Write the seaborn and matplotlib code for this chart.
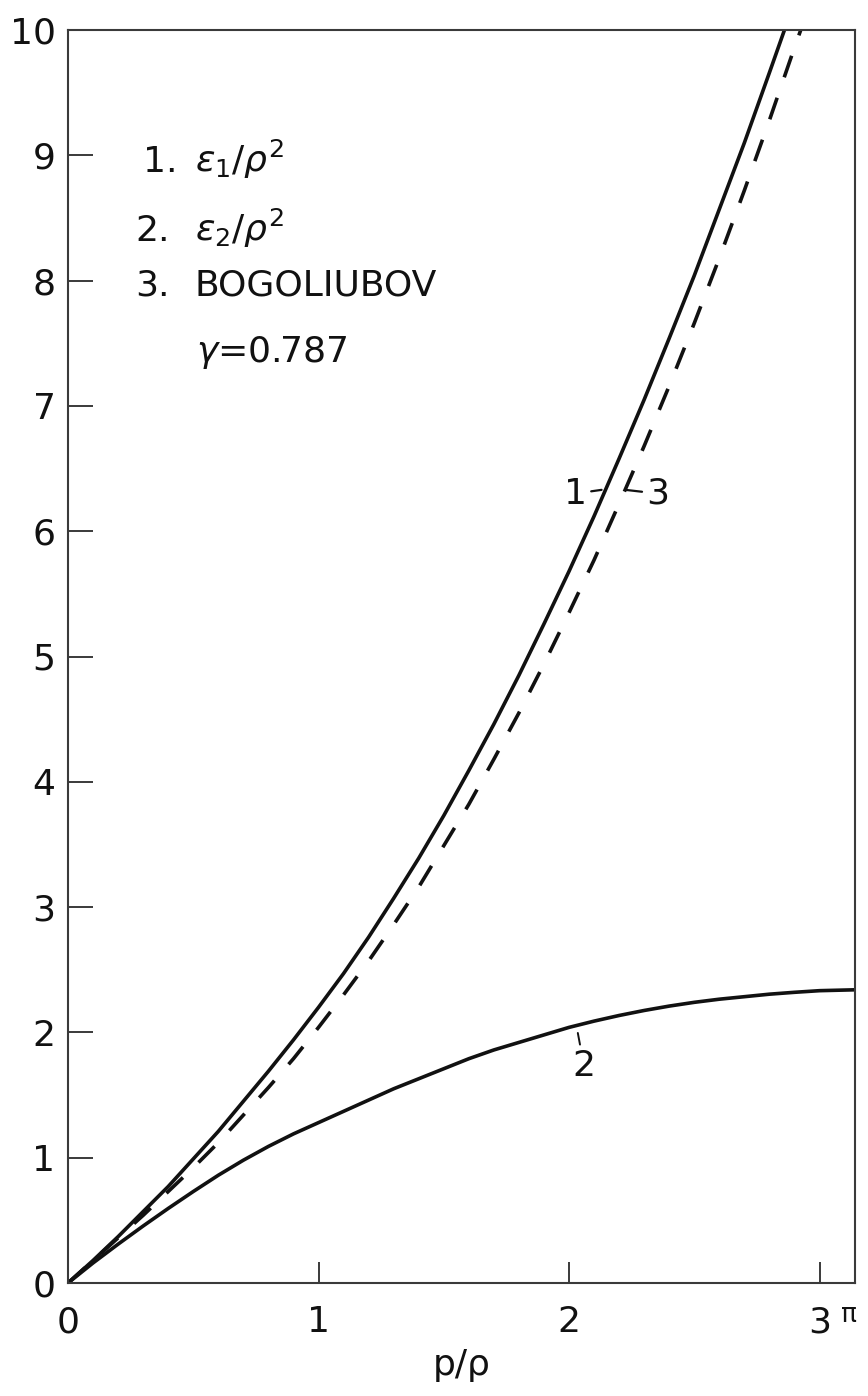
import numpy as np
import pandas as pd
import matplotlib
matplotlib.use("Agg")
import matplotlib.pyplot as plt
import seaborn as sns

# Excitation spectra, energy / rho^2 versus momentum p / rho
p_eps1 = [0.0, 0.1, 0.2, 0.3, 0.4, 0.5, 0.6, 0.7, 0.8, 0.9, 1.0, 1.1, 1.2, 1.3,
          1.4, 1.5, 1.6, 1.7, 1.8, 1.9, 2.0, 2.1, 2.2, 2.3, 2.4, 2.5, 2.6, 2.7,
          2.8, 2.86]
eps1 = [0.0, 0.18, 0.37, 0.57, 0.77, 0.99, 1.21, 1.45, 1.69, 1.94, 2.20, 2.47,
        2.76, 3.07, 3.39, 3.73, 4.09, 4.46, 4.85, 5.26, 5.68, 6.12, 6.58, 7.05,
        7.54, 8.04, 8.57, 9.10, 9.66, 10.0]

p_eps2 = [0.0, 0.1, 0.2, 0.3, 0.4, 0.5, 0.6, 0.7, 0.8, 0.9, 1.0, 1.1, 1.2, 1.3,
          1.4, 1.5, 1.6, 1.7, 1.8, 1.9, 2.0, 2.1, 2.2, 2.3, 2.4, 2.5, 2.6, 2.7,
          2.8, 2.9, 3.0, np.pi]
eps2 = [0.0, 0.16, 0.31, 0.455, 0.595, 0.73, 0.86, 0.98, 1.09, 1.19, 1.28, 1.37,
        1.46, 1.55, 1.63, 1.71, 1.79, 1.86, 1.92, 1.98, 2.04, 2.09, 2.135, 2.175,
        2.21, 2.24, 2.265, 2.285, 2.305, 2.32, 2.333, 2.34]

p_bog = [0.0, 0.1, 0.2, 0.3, 0.4, 0.5, 0.6, 0.7, 0.8, 0.9, 1.0, 1.1, 1.2, 1.3,
         1.4, 1.5, 1.6, 1.7, 1.8, 1.9, 2.0, 2.1, 2.2, 2.3, 2.4, 2.5, 2.6, 2.7,
         2.8, 2.9, 2.925]
bog = [0.0, 0.18, 0.36, 0.54, 0.73, 0.92, 1.12, 1.34, 1.56, 1.79, 2.04, 2.30,
       2.57, 2.86, 3.16, 3.49, 3.82, 4.18, 4.55, 4.94, 5.35, 5.77, 6.22, 6.68,
       7.16, 7.66, 8.18, 8.72, 9.28, 9.86, 10.0]

x_ticks = [0, 1, 2, 3]
x_ticklabels = ["0", "1", "2", "3"]
y_ticks = list(range(0, 11))
y_ticklabels = [str(v) for v in y_ticks]
legend_numbers = ["1.", "2.", "3."]
legend_texts = [r"$\epsilon_1/\rho^2$", r"$\epsilon_2/\rho^2$", "BOGOLIUBOV"]
gamma_text = r"$\gamma$=0.787"

sns.set_theme(style="white")
plt.rcParams["font.family"] = ["DejaVu Sans"]
plt.rcParams["mathtext.fontset"] = "dejavusans"

ink = "#111111"
frame = "#3a3a3a"
fs = 26

fig = plt.figure(figsize=(8.68, 13.96), dpi=100)
fig.patch.set_facecolor("white")
ax = fig.add_axes([68 / 868, (1396 - 1283) / 1396, 787 / 868, 1253 / 1396])
ax.set_facecolor("white")

df1 = pd.DataFrame({"p": p_eps1, "e": eps1})
df2 = pd.DataFrame({"p": p_eps2, "e": eps2})
df3 = pd.DataFrame({"p": p_bog, "e": bog})

sns.lineplot(data=df1, x="p", y="e", ax=ax, color=ink, lw=2.6,
             sort=False, estimator=None)
sns.lineplot(data=df2, x="p", y="e", ax=ax, color=ink, lw=2.6,
             sort=False, estimator=None)
sns.lineplot(data=df3, x="p", y="e", ax=ax, color=ink, lw=2.6,
             sort=False, estimator=None, linestyle=(0, (6.3, 6.0)))

ax.set_xlim(0, np.pi)
ax.set_ylim(0, 10)

ax.set_xticks(x_ticks)
ax.set_xticklabels(x_ticklabels)
ax.set_yticks(y_ticks)
ax.set_yticklabels(y_ticklabels)

ax.tick_params(axis="x", direction="in", length=15, width=1.4, color=frame,
               pad=16, labelsize=fs, labelcolor=ink, bottom=True, top=False)
ax.tick_params(axis="y", direction="in", length=18, width=1.4, color=frame,
               pad=9, labelsize=fs, labelcolor=ink, left=True, right=False)

for sp in ax.spines.values():
    sp.set_visible(True)
    sp.set_color(frame)
    sp.set_linewidth(1.5)

ax.set_xlabel("p/ρ", fontsize=fs, color=ink)
ax.set_ylabel("")
ax.xaxis.set_label_coords(0.5, -0.052)

# pi marks the end of the momentum axis
ax.annotate("π", xy=(np.pi, 0), xycoords="data", xytext=(-6, -32),
            textcoords="offset pixels", ha="center", va="center",
            fontsize=19, color=ink)

# Key in the upper left
num_x = [0.095, 0.085, 0.085]
row_y = [0.8867, 0.832, 0.7885]
for num, txt, nx, ry in zip(legend_numbers, legend_texts, num_x, row_y):
    ax.text(nx, ry, num, transform=ax.transAxes, fontsize=fs, color=ink,
            ha="left", va="baseline")
    ax.text(0.161, ry, txt, transform=ax.transAxes, fontsize=fs, color=ink,
            ha="left", va="baseline")
ax.text(0.163, 0.735, gamma_text, transform=ax.transAxes, fontsize=fs,
        color=ink, ha="left", va="baseline")

# Curve labels with short leader strokes
ax.annotate("1", xy=(2.13, 6.33), xytext=(2.07, 6.30), fontsize=fs,
            color=ink, ha="right", va="center",
            arrowprops=dict(arrowstyle="-", color=ink, lw=1.6,
                            shrinkA=1, shrinkB=0))
ax.annotate("3", xy=(2.225, 6.33), xytext=(2.31, 6.30), fontsize=fs,
            color=ink, ha="left", va="center",
            arrowprops=dict(arrowstyle="-", color=ink, lw=1.6,
                            shrinkA=1, shrinkB=0))
ax.annotate("2", xy=(2.03, 2.05), xytext=(2.06, 1.73), fontsize=fs,
            color=ink, ha="center", va="center",
            arrowprops=dict(arrowstyle="-", color=ink, lw=1.4,
                            shrinkA=1, shrinkB=5))

fig.savefig("out.png", dpi=100, facecolor="white")
